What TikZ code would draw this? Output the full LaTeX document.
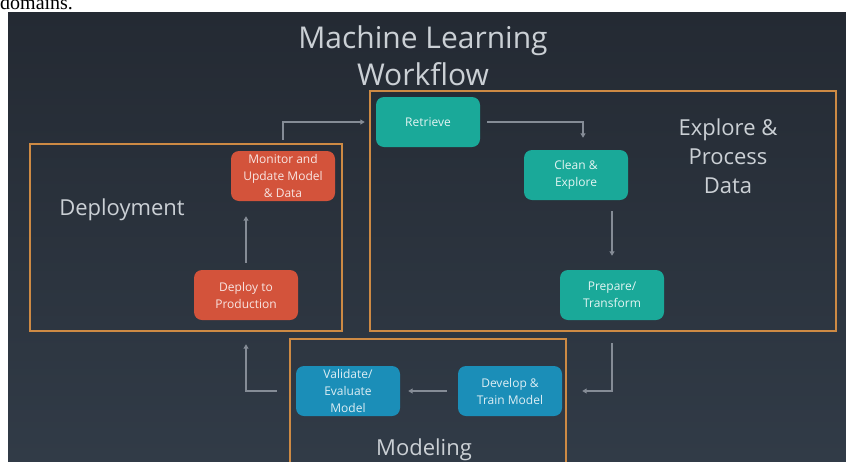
\documentclass[tikz,border=0pt]{standalone}
\usepackage{fontspec}
\setmainfont{Open Sans}
\newfontfamily\pagefont{Liberation Serif}
\usetikzlibrary{arrows.meta}

\definecolor{paneltop}{HTML}{242A33}
\definecolor{panelbot}{HTML}{313B47}
\definecolor{frameorange}{HTML}{CD8A44}
\definecolor{tealbox}{HTML}{1AA999}
\definecolor{redbox}{HTML}{D3533B}
\definecolor{bluebox}{HTML}{1B8EB8}
\definecolor{arrowgray}{HTML}{858C96}
\definecolor{labelgray}{HTML}{CBD0D5}

\tikzset{
  stepbox/.style={rounded corners=8pt, minimum width=104pt, minimum height=50pt,
    inner sep=0pt, align=center, font=\fontsize{12}{17}\selectfont},
  explorebox/.style={stepbox, fill=tealbox, text=white!88!tealbox},
  deploybox/.style={stepbox, fill=redbox, text=white!85!redbox},
  modelbox/.style={stepbox, fill=bluebox, text=white!85!bluebox},
  flow/.style={draw=arrowgray, line width=1.1pt, -{Triangle[width=5pt,length=4.5pt]}},
  stageframe/.style={draw=frameorange, line width=2.5pt},
  stagelabel/.style={text=labelgray, align=center, font=\fontsize{22}{29}\selectfont}
}

\begin{document}
\begin{tikzpicture}[x=1pt,y=-1pt]
  \useasboundingbox (0,0) rectangle (846,461);
  \fill[white] (0,0) rectangle (846,461);
  \node[anchor=base west, inner sep=0pt, font=\pagefont\fontsize{20}{24}\selectfont] (pagetext) at (0,9) {domains.};
  \shade[top color=paneltop, bottom color=panelbot] (8,12) rectangle (846,461);

  % title
  \node[text=labelgray, align=center, font=\fontsize{30}{37}\selectfont] (title) at (423,56) {Machine Learning\\Workflow};

  % stage frames
  \draw[stageframe] (30,144) rectangle (342,331);
  \draw[stageframe] (370,91) rectangle (836,331);
  \draw[stageframe] (290,339) rectangle (566,470);

  \node[stagelabel] (lbldeploy) at (122,210) {Deployment};
  \node[stagelabel] (lblexplore) at (728,156) {Explore \&\\Process\\Data};
  \node[stagelabel] (lblmodel) at (424,450) {Modeling};

  % steps
  \node[explorebox] (retrieve) at (428,122) {Retrieve};
  \node[explorebox] (clean) at (576,175) {Clean \&\\Explore};
  \node[explorebox] (prepare) at (612,295) {Prepare/\\Transform};
  \node[modelbox] (develop) at (510,391) {Develop \&\\Train Model};
  \node[modelbox] (validate) at (348,391) {Validate/\\Evaluate\\Model};
  \node[deploybox] (deploy) at (246,295) {Deploy to\\Production};
  \node[deploybox] (monitor) at (283,176) {Monitor and\\Update Model\\\& Data};

  % connectors
  \draw[flow, shorten <=7pt] (retrieve.east) -| ([xshift=7pt,yshift=12pt]clean.north);
  \draw[flow, shorten <=11pt, shorten >=14pt] (clean.south -| prepare.north) -- (prepare.north);
  \draw[flow, shorten <=23pt, shorten >=20pt] (prepare.south) |- (develop.east);
  \draw[flow, shorten <=11pt, shorten >=8pt] (develop.west) -- (validate.east);
  \draw[flow, shorten <=19pt, shorten >=24pt] (validate.west) -| (deploy.south);
  \draw[flow, shorten <=7pt, shorten >=15pt] (deploy.north) -- (deploy.north |- monitor.south);
  \draw[flow, shorten <=11pt, shorten >=11pt] (monitor.north) |- (retrieve.west);
\end{tikzpicture}
\end{document}
